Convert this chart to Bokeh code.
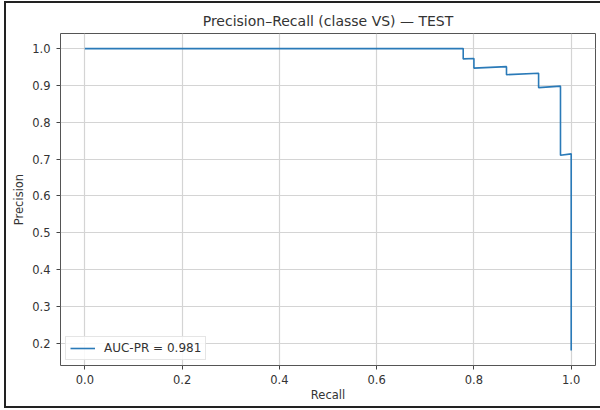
from bokeh.plotting import figure
from bokeh.models import Range1d, FixedTicker, Legend, LegendItem
from bokeh.embed import file_html
from bokeh.resources import INLINE

# Data
recall = [0.0, 0.778, 0.778, 0.800, 0.800, 0.867, 0.867, 0.933, 0.933, 0.978, 0.978, 1.0, 1.0]
precision = [1.0, 1.0, 0.972, 0.973, 0.947, 0.951, 0.929, 0.933, 0.894, 0.898, 0.710, 0.714, 0.18]
auc_label = "AUC-PR = 0.981"
title_text = "Precision\u2013Recall (classe VS) \u2014 TEST"
x_ticks = [0.0, 0.2, 0.4, 0.6, 0.8, 1.0]
y_ticks = [0.2, 0.3, 0.4, 0.5, 0.6, 0.7, 0.8, 0.9, 1.0]

FONT = "DejaVu Sans"
TXT = "#333333"

p = figure(width=600, height=410, output_backend="svg", toolbar_location=None,
           x_range=Range1d(-0.05, 1.05), y_range=Range1d(0.139, 1.041),
           min_border_left=60, min_border_right=5, min_border_top=33, min_border_bottom=45)

p.title.text = title_text
p.title.align = "center"
p.title.text_font = FONT
p.title.text_font_size = "14px"
p.title.text_font_style = "normal"
p.title.text_color = TXT

p.outline_line_color = "#555555"
p.outline_line_width = 1
p.background_fill_color = "white"
p.border_fill_color = "white"
p.border_fill_alpha = 0.0

# dark frame of the screenshot (left, top and bottom edges)
p.styles = {
    "background-image": "linear-gradient(#222,#222), linear-gradient(#222,#222), linear-gradient(#222,#222)",
    "background-size": "2px 407px, 596px 2px, 596px 2px",
    "background-position": "4px 1px, 4px 1px, 4px 406px",
    "background-repeat": "no-repeat",
}

for ax in (p.xaxis[0], p.yaxis[0]):
    ax.axis_line_color = None
    ax.major_tick_line_color = "#444444"
    ax.major_tick_out = 4
    ax.major_tick_in = 0
    ax.minor_tick_line_color = None
    ax.major_label_text_font = FONT
    ax.major_label_text_font_size = "11.5px"
    ax.major_label_text_color = TXT
    ax.axis_label_text_font = FONT
    ax.axis_label_text_font_size = "11.5px"
    ax.axis_label_text_font_style = "normal"
    ax.axis_label_text_color = TXT

p.xaxis.ticker = FixedTicker(ticks=x_ticks)
p.yaxis.ticker = FixedTicker(ticks=y_ticks)
p.xaxis.major_label_overrides = {t: f"{t:.1f}" for t in x_ticks}
p.yaxis.major_label_overrides = {t: f"{t:.1f}" for t in y_ticks}
p.xaxis.axis_label = "Recall"
p.yaxis.axis_label = "Precision"
p.xaxis.major_label_standoff = 5
p.yaxis.major_label_standoff = 6
p.xaxis.axis_label_standoff = 1
p.yaxis.axis_label_standoff = 3

p.xgrid.ticker = FixedTicker(ticks=x_ticks)
p.ygrid.ticker = FixedTicker(ticks=y_ticks)
p.grid.grid_line_color = "#d4d4d4"
p.grid.grid_line_width = 1.2

r = p.line(recall, precision, line_color="#2a7ab8", line_width=1.6)

legend = Legend(items=[LegendItem(label=auc_label, renderers=[r])],
                location="bottom_left")
legend.margin = 5
legend.padding = 4
legend.spacing = 0
legend.glyph_width = 25
legend.glyph_height = 12
legend.label_text_font = FONT
legend.label_text_font_size = "12px"
legend.label_text_color = TXT
legend.label_standoff = 9
legend.border_line_color = "#cccccc"
legend.border_line_width = 1
legend.background_fill_alpha = 0.85
legend.label_height = 12
p.add_layout(legend)

open("out.html", "w").write(file_html(p, INLINE))
